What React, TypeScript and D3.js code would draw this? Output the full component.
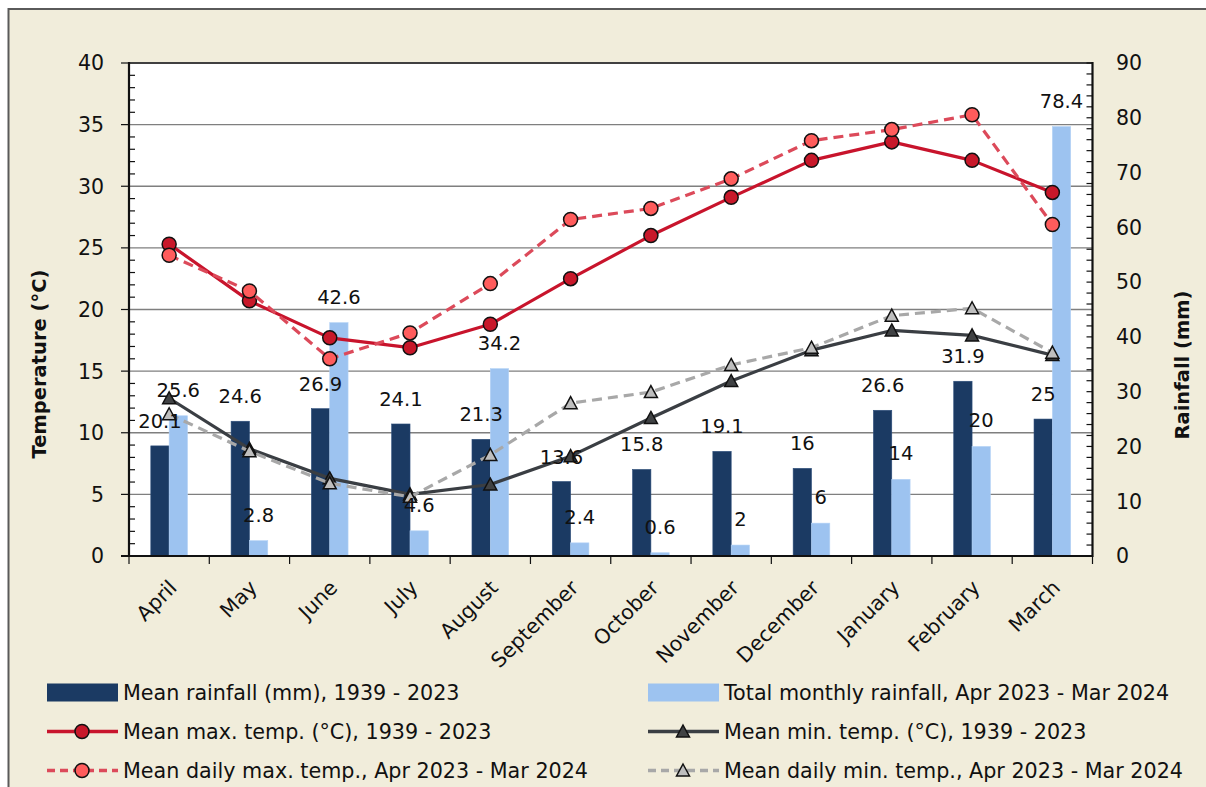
import React, { useRef, useEffect } from 'react';
import * as d3 from 'd3';

const months = ['April', 'May', 'June', 'July', 'August', 'September', 'October', 'November', 'December', 'January', 'February', 'March'];
const meanRain = [20.1, 24.6, 26.9, 24.1, 21.3, 13.6, 15.8, 19.1, 16, 26.6, 31.9, 25];
const totalRain = [25.6, 2.8, 42.6, 4.6, 34.2, 2.4, 0.6, 2, 6, 14, 20, 78.4];
const meanMax = [25.3, 20.7, 17.7, 16.9, 18.8, 22.5, 26.0, 29.1, 32.1, 33.6, 32.1, 29.5];
const dailyMax = [24.4, 21.5, 16.0, 18.1, 22.1, 27.3, 28.2, 30.6, 33.7, 34.6, 35.8, 26.9];
const meanMin = [12.8, 8.7, 6.3, 5.0, 5.8, 8.1, 11.2, 14.2, 16.7, 18.3, 17.9, 16.3];
const dailyMin = [11.5, 8.5, 5.9, 4.8, 8.2, 12.4, 13.3, 15.5, 16.9, 19.5, 20.1, 16.5];
const tempTicks = [0, 5, 10, 15, 20, 25, 30, 35, 40];
const rainTicks = [0, 10, 20, 30, 40, 50, 60, 70, 80, 90];

const W = 1206;
const H = 787;
const FONT = '"DejaVu Sans", Verdana, sans-serif';

const App: React.FC = () => {
  const svgRef = useRef<SVGSVGElement>(null);

  useEffect(() => {
    if (!svgRef.current) return;
    const svg = d3.select(svgRef.current);
    svg.selectAll('*').remove();

    const plot = { left: 129, right: 1092.5, top: 63, bottom: 556 };

    // outer frame
    svg.append('rect')
      .attr('x', 8.5).attr('y', 9)
      .attr('width', 1400).attr('height', 1000)
      .attr('fill', '#F1EDDB')
      .attr('stroke', '#5a5a5a')
      .attr('stroke-width', 2);

    svg.append('rect')
      .attr('x', plot.left).attr('y', plot.top)
      .attr('width', plot.right - plot.left).attr('height', plot.bottom - plot.top)
      .attr('fill', 'white');

    // scales
    const x = d3.scaleBand<string>().domain(months).range([plot.left, plot.right]).padding(0);
    const xSub = d3.scaleBand<string>().domain(['mean', 'total'])
      .range([0, x.bandwidth()]).paddingInner(0).paddingOuter(1.19);
    const yT = d3.scaleLinear().domain([0, 40]).range([plot.bottom, plot.top]);
    const yR = d3.scaleLinear().domain([0, 90]).range([plot.bottom, plot.top]);

    // gridlines
    svg.append('g').selectAll('line')
      .data(tempTicks.filter(t => t > 0))
      .join('line')
      .attr('x1', plot.left).attr('x2', plot.right)
      .attr('y1', d => yT(d)).attr('y2', d => yT(d))
      .attr('stroke', d => d === 40 ? '#404040' : '#7f7f7f')
      .attr('stroke-width', d => d === 40 ? 2 : 1.3);

    // bars
    const bars = svg.append('g');
    months.forEach((m, i) => {
      bars.append('rect')
        .attr('x', x(m)! + xSub('mean')!)
        .attr('y', yR(meanRain[i]))
        .attr('width', xSub.bandwidth())
        .attr('height', yR(0) - yR(meanRain[i]))
        .attr('fill', '#1B3A63')
        .attr('stroke', '#2c4d7a').attr('stroke-width', 0.6);
      bars.append('rect')
        .attr('x', x(m)! + xSub('total')!)
        .attr('y', yR(totalRain[i]))
        .attr('width', xSub.bandwidth())
        .attr('height', yR(0) - yR(totalRain[i]))
        .attr('fill', '#9DC3F0')
        .attr('stroke', '#b5d3f5').attr('stroke-width', 0.6);
    });

    // axes
    const axes = svg.append('g');
    axes.append('line').attr('x1', plot.left).attr('x2', plot.left).attr('y1', plot.top - 1).attr('y2', plot.bottom + 1)
      .attr('stroke', '#111').attr('stroke-width', 2.2);
    axes.append('line').attr('x1', plot.right).attr('x2', plot.right).attr('y1', plot.top - 1).attr('y2', plot.bottom + 1)
      .attr('stroke', '#111').attr('stroke-width', 2.2);
    axes.append('line').attr('x1', plot.left - 8).attr('x2', plot.right).attr('y1', plot.bottom).attr('y2', plot.bottom)
      .attr('stroke', '#111').attr('stroke-width', 2.2);

    // left axis ticks
    d3.range(0, 41, 1).forEach(v => {
      const major = v % 5 === 0;
      axes.append('line')
        .attr('x1', major ? plot.left - 8 : plot.left).attr('x2', major ? plot.left : plot.left + 6)
        .attr('y1', yT(v)).attr('y2', yT(v))
        .attr('stroke', '#111').attr('stroke-width', 1.2);
    });
    axes.selectAll('text.lt')
      .data(tempTicks)
      .join('text')
      .attr('class', 'lt')
      .attr('x', 104).attr('y', d => yT(d)).attr('dy', '0.36em')
      .attr('text-anchor', 'end')
      .style('font-size', '20.5px').style('font-family', FONT).style('fill', '#111')
      .text(d => d);

    // right axis ticks
    d3.range(0, 91, 2).forEach(v => {
      axes.append('line')
        .attr('x1', plot.right - 6).attr('x2', plot.right)
        .attr('y1', yR(v)).attr('y2', yR(v))
        .attr('stroke', '#111').attr('stroke-width', 1.2);
    });
    axes.selectAll('text.rt')
      .data(rainTicks)
      .join('text')
      .attr('class', 'rt')
      .attr('x', 1116).attr('y', d => yR(d)).attr('dy', '0.36em')
      .attr('text-anchor', 'start')
      .style('font-size', '20.5px').style('font-family', FONT).style('fill', '#111')
      .text(d => d);

    // bottom ticks + month labels
    [...months.map(m => x(m)!), plot.right].forEach(px => {
      axes.append('line')
        .attr('x1', px).attr('x2', px).attr('y1', plot.bottom).attr('y2', plot.bottom + 8)
        .attr('stroke', '#111').attr('stroke-width', 1.2);
    });
    months.forEach(m => {
      const cx = x(m)! + x.bandwidth() / 2;
      axes.append('text')
        .attr('transform', `translate(${cx + 9},${589}) rotate(-45)`)
        .attr('text-anchor', 'end')
        .style('font-size', '20.5px').style('font-family', FONT).style('fill', '#111')
        .text(m);
    });

    // axis titles
    svg.append('text')
      .attr('transform', `translate(46,364) rotate(-90)`)
      .attr('text-anchor', 'middle')
      .style('font-size', '19.5px').style('font-weight', 'bold').style('font-family', FONT).style('fill', '#111')
      .text('Temperature (°C)');
    svg.append('text')
      .attr('transform', `translate(1189,365) rotate(-90)`)
      .attr('text-anchor', 'middle')
      .style('font-size', '19.5px').style('font-weight', 'bold').style('font-family', FONT).style('fill', '#111')
      .text('Rainfall (mm)');

    // lines + markers
    const cxOf = (i: number) => x(months[i])! + x.bandwidth() / 2;
    const tri = (cx: number, cy: number, s = 6.5) =>
      `M${cx},${cy - s}L${cx + s},${cy + s - 1}L${cx - s},${cy + s - 1}Z`;

    const series = [
      { data: meanMax, line: '#C8142C', dash: null, marker: 'circle', fill: '#C8182A' },
      { data: meanMin, line: '#3A3E43', dash: null, marker: 'tri', fill: '#404244' },
      { data: dailyMax, line: '#DC4A5A', dash: '10,6', marker: 'circle', fill: '#FF5C5C' },
      { data: dailyMin, line: '#A8A8A8', dash: '10,6', marker: 'tri', fill: '#BEBEBE' },
    ];

    const lineGen = d3.line<number>()
      .x((_, i) => cxOf(i))
      .y(d => yT(d));

    series.forEach(s => {
      const g = svg.append('g');
      g.append('path')
        .attr('d', lineGen(s.data))
        .attr('fill', 'none')
        .attr('stroke', s.line)
        .attr('stroke-width', 3.2)
        .attr('stroke-linejoin', 'round')
        .attr('stroke-dasharray', s.dash);
      s.data.forEach((v, i) => {
        if (s.marker === 'circle') {
          g.append('circle')
            .attr('cx', cxOf(i)).attr('cy', yT(v)).attr('r', 7)
            .attr('fill', s.fill).attr('stroke', '#111').attr('stroke-width', 1.5);
        } else {
          g.append('path')
            .attr('d', tri(cxOf(i), yT(v)))
            .attr('fill', s.fill).attr('stroke', '#111').attr('stroke-width', 1.5);
        }
      });
    });

    // bar value labels
    const labels = svg.append('g')
      .style('font-size', '19.5px').style('font-family', FONT).style('fill', '#111');
    months.forEach((m, i) => {
      labels.append('text')
        .attr('x', x(m)! + xSub('mean')! + xSub.bandwidth() / 2)
        .attr('y', yR(meanRain[i]) - 25).attr('dy', '0.36em')
        .attr('text-anchor', 'middle')
        .text(meanRain[i]);
      labels.append('text')
        .attr('x', x(m)! + xSub('total')! + xSub.bandwidth() / 2)
        .attr('y', yR(totalRain[i]) - 26).attr('dy', '0.36em')
        .attr('text-anchor', 'middle')
        .text(totalRain[i]);
    });

    // legend
    const legend = svg.append('g')
      .style('font-size', '20.7px').style('font-family', FONT).style('fill', '#111');
    const items = [
      { label: 'Mean rainfall (mm), 1939 - 2023', kind: 'bar', color: '#1B3A63', col: 0, row: 0 },
      { label: 'Total monthly rainfall, Apr 2023 - Mar 2024', kind: 'bar', color: '#9DC3F0', col: 1, row: 0 },
      { label: 'Mean max. temp. (°C), 1939 - 2023', kind: 'line', s: series[0], col: 0, row: 1 },
      { label: 'Mean min. temp. (°C), 1939 - 2023', kind: 'line', s: series[1], col: 1, row: 1 },
      { label: 'Mean daily max. temp., Apr 2023 - Mar 2024', kind: 'line', s: series[2], col: 0, row: 2 },
      { label: 'Mean daily min. temp., Apr 2023 - Mar 2024', kind: 'line', s: series[3], col: 1, row: 2 },
    ];
    const colX = [47, 648];
    const rowY = [692.5, 731.5, 770.5];
    items.forEach(it => {
      const lx = colX[it.col];
      const ly = rowY[it.row];
      if (it.kind === 'bar') {
        legend.append('rect')
          .attr('x', lx).attr('y', ly - 9).attr('width', 71).attr('height', 18)
          .attr('fill', it.color!);
      } else {
        const s = it.s!;
        legend.append('line')
          .attr('x1', lx).attr('x2', lx + 71).attr('y1', ly).attr('y2', ly)
          .attr('stroke', s.line).attr('stroke-width', 3.5)
          .attr('stroke-dasharray', s.dash ? '8,5' : null);
        if (s.marker === 'circle') {
          legend.append('circle')
            .attr('cx', lx + 35).attr('cy', ly).attr('r', 7)
            .attr('fill', s.fill).attr('stroke', '#111').attr('stroke-width', 1.5);
        } else {
          legend.append('path')
            .attr('d', tri(lx + 35, ly))
            .attr('fill', s.fill).attr('stroke', '#111').attr('stroke-width', 1.5);
        }
      }
      legend.append('text')
        .attr('x', lx + 76).attr('y', ly).attr('dy', '0.36em')
        .text(it.label);
    });
  }, []);

  return (
    <svg
      ref={svgRef}
      width={W}
      height={H}
      style={{ position: 'absolute', left: 0, top: 0, display: 'block', background: 'white' }}
    />
  );
};

export default App;
